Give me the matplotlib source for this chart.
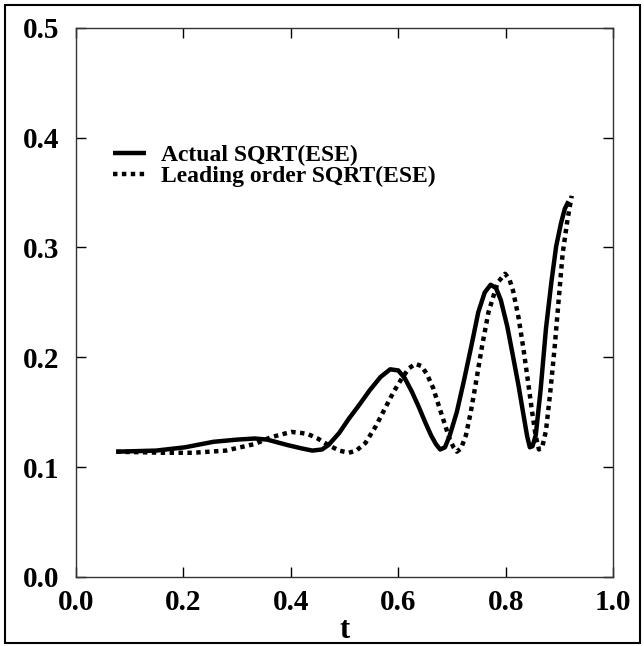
import matplotlib
matplotlib.use("Agg")
import matplotlib.pyplot as plt
from matplotlib.patches import Rectangle

plt.rcParams['font.family'] = ['Liberation Serif', 'DejaVu Serif']
plt.rcParams['font.weight'] = 'bold'

# Actual SQRT(ESE)
t_actual = [0.075, 0.149, 0.203, 0.256, 0.300, 0.333, 0.356, 0.394, 0.420, 0.440,
            0.458, 0.470, 0.490, 0.508, 0.528, 0.547, 0.567, 0.585, 0.600, 0.612,
            0.625, 0.638, 0.650, 0.661, 0.670, 0.678, 0.687, 0.696, 0.709, 0.722,
            0.736, 0.749, 0.761, 0.772, 0.782, 0.791, 0.803, 0.814, 0.824, 0.833,
            0.840, 0.845, 0.850, 0.856, 0.865, 0.875, 0.885, 0.894, 0.903, 0.910, 0.917]
y_actual = [0.114, 0.115, 0.118, 0.123, 0.125, 0.126, 0.125, 0.120, 0.117, 0.115,
            0.116, 0.120, 0.131, 0.144, 0.157, 0.170, 0.182, 0.189, 0.188, 0.181,
            0.169, 0.155, 0.141, 0.129, 0.121, 0.116, 0.118, 0.129, 0.150, 0.178,
            0.210, 0.241, 0.259, 0.266, 0.263, 0.252, 0.228, 0.200, 0.174, 0.148,
            0.128, 0.118, 0.119, 0.129, 0.170, 0.226, 0.268, 0.301, 0.322, 0.335, 0.342]

# Leading order SQRT(ESE)
t_lead = [0.075, 0.164, 0.218, 0.279, 0.333, 0.362, 0.385, 0.401, 0.420, 0.432,
          0.450, 0.470, 0.490, 0.508, 0.522, 0.539, 0.558, 0.577, 0.592, 0.607,
          0.620, 0.632, 0.643, 0.653, 0.665, 0.676, 0.686, 0.696, 0.703, 0.709,
          0.717, 0.726, 0.735, 0.745, 0.756, 0.768, 0.785, 0.799, 0.807, 0.814,
          0.824, 0.833, 0.841, 0.849, 0.856, 0.862, 0.868, 0.875, 0.883, 0.891,
          0.899, 0.906, 0.915, 0.923]
y_lead = [0.114, 0.113, 0.113, 0.115, 0.121, 0.127, 0.130, 0.132, 0.131, 0.130,
          0.126, 0.120, 0.115, 0.113, 0.115, 0.122, 0.137, 0.155, 0.169, 0.181,
          0.190, 0.194, 0.192, 0.185, 0.172, 0.155, 0.140, 0.125, 0.118, 0.114,
          0.117, 0.129, 0.150, 0.178, 0.210, 0.241, 0.268, 0.276, 0.271, 0.260,
          0.236, 0.208, 0.180, 0.151, 0.128, 0.116, 0.118, 0.133, 0.168, 0.208,
          0.254, 0.294, 0.325, 0.347]

xticks = [0.0, 0.2, 0.4, 0.6, 0.8, 1.0]
yticks = [0.0, 0.1, 0.2, 0.3, 0.4, 0.5]

fig = plt.figure(figsize=(6.44, 6.46), dpi=100)
ax = fig.add_axes([0.118, 0.107, 0.834, 0.850])

ax.plot(t_actual, y_actual, color='black', linewidth=3.2, solid_capstyle='butt',
        label='Actual SQRT(ESE)')
ax.plot(t_lead, y_lead, color='black', linewidth=3.2, linestyle=(0, (1, 1.0)),
        dash_capstyle='butt', label='Leading order SQRT(ESE)')

ax.set_xlim(0, 1)
ax.set_ylim(0, 0.5)
ax.set_xticks(xticks)
ax.set_yticks(yticks)
ax.set_xticklabels([f'{v:.1f}' for v in xticks])
ax.set_yticklabels([f'{v:.1f}' for v in yticks])
ax.tick_params(direction='in', length=7, width=1, top=True, right=True,
               labelsize=21)
ax.tick_params(axis='x', pad=9)
ax.tick_params(axis='y', pad=12)
ax.set_xlabel('t', fontsize=22, fontweight='bold', labelpad=0)
for s in ax.spines.values():
    s.set_linewidth(1.0)
    s.set_color('#333333')

leg = ax.legend(loc='upper left', bbox_to_anchor=(0.052, 0.805), frameon=False,
                fontsize=17, handlelength=1.4, handletextpad=0.6,
                labelspacing=0.0, borderaxespad=0)

# outer frame around the figure
fig.patches.append(Rectangle((0.008, 0.004), 0.986, 0.988, transform=fig.transFigure,
                             fill=False, edgecolor='black', linewidth=1.5))

fig.savefig('out.png', dpi=100)
